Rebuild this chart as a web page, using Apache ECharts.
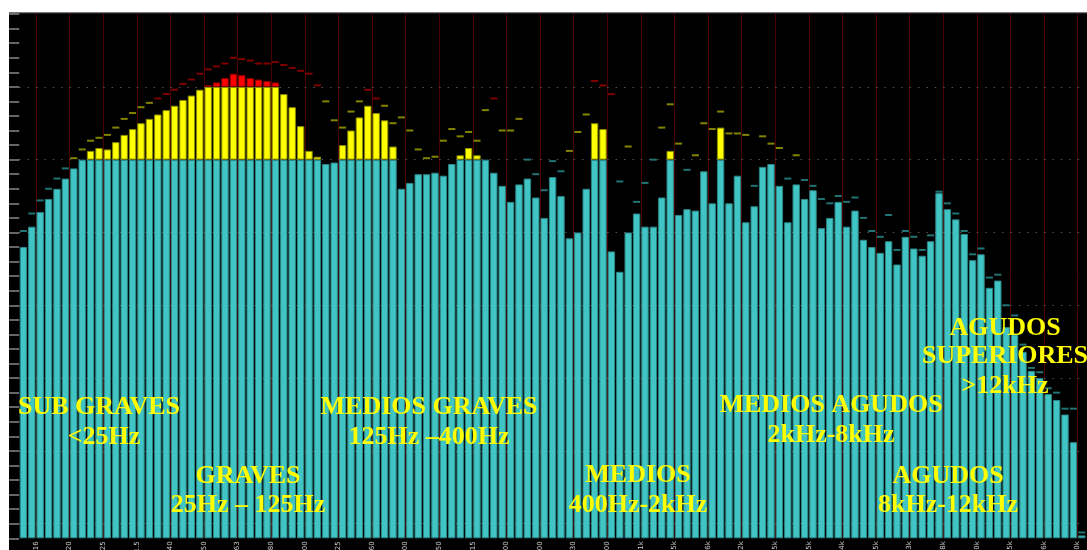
<!DOCTYPE html>
<html>
<head>
<meta charset="utf-8">
<script src="https://cdn.jsdelivr.net/npm/echarts@6/dist/echarts.min.js"></script>
<style>
  html, body { margin: 0; background: #fff; }
  #chart { position: absolute; left: 9px; top: 12px; width: 1078px; height: 538px; background: #000; }
</style>
</head>
<body>
<div id="chart"></div>
<script>
// 1/12 octave analyzer, level in display steps (0 = bottom, 36 = top)
var levels = [
  20.0, 21.4, 22.4, 23.3, 24.0, 24.7, 25.4, 26.0, 26.6, 26.8,
  26.7, 27.2, 27.7, 28.1, 28.5, 28.8, 29.1, 29.4, 29.7, 30.1,
  30.4, 30.8, 31.1, 31.3, 31.6, 31.9, 31.8, 31.6, 31.5, 31.4,
  31.3, 30.5, 29.6, 28.3, 26.6, 26.2, 25.7, 25.8, 27.0, 28.0,
  28.9, 29.7, 29.2, 28.7, 26.9, 24.0, 24.4, 25.0, 25.0, 25.1,
  24.9, 25.7, 26.3, 26.8, 26.3, 26.0, 25.1, 24.2, 23.1, 24.3,
  24.7, 23.4, 22.0, 24.8, 23.5, 20.6, 21.0, 24.0, 28.5, 28.1,
  19.7, 18.3, 21.0, 22.3, 21.4, 21.4, 23.4, 26.6, 22.2, 22.6,
  22.5, 25.2, 23.0, 28.2, 23.0, 24.9, 21.7, 22.8, 25.5, 25.7,
  24.2, 21.7, 24.3, 23.3, 23.9, 21.3, 22.0, 23.1, 21.4, 22.5,
  20.5, 20.0, 19.6, 20.4, 18.8, 20.7, 19.9, 19.4, 20.4, 23.7,
  22.6, 21.9, 20.9, 19.1, 19.5, 17.2, 17.7, 14.5, 14.0, 12.8,
  11.5, 11.0, 9.9, 9.5, 8.5, 6.6, 0.2
];
// peak hold marks
var peaks = [
  21.1, 22.3, 23.2, 24.0, 24.7, 25.4, 26.1, 26.7, 27.3, 27.5,
  27.7, 28.2, 28.8, 29.2, 29.6, 29.9, 30.2, 30.5, 30.8, 31.2,
  31.5, 31.9, 32.2, 32.4, 32.6, 33.0, 32.9, 32.8, 32.6, 32.6,
  32.7, 32.5, 32.3, 32.1, 31.9, 31.1, 30.0, 28.7, 28.2, 29.3,
  30.0, 30.8, 30.2, 29.7, 28.5, 28.9, 28.0, 26.7, 26.1, 26.2,
  27.3, 28.1, 27.6, 27.9, 27.3, 29.4, 30.2, 28.0, 28.0, 28.8,
  26.0, 25.0, 23.9, 25.9, 25.2, 26.6, 27.9, 29.1, 31.4, 31.1,
  30.5, 24.5, 26.9, 23.1, 24.4, 26.0, 28.2, 29.8, 27.1, 25.3,
  26.3, 28.5, 28.1, 29.3, 27.8, 27.8, 27.7, 24.2, 27.6, 27.1,
  26.8, 24.7, 26.3, 24.6, 24.2, 23.3, 23.0, 23.5, 23.1, 23.4,
  22.0, 21.1, 20.7, 22.2, 19.8, 21.1, 20.7, 19.8, 20.8, 23.8,
  23.0, 22.3, 21.1, 19.5, 19.9, 17.9, 18.1, 16.0, 15.3, 13.3,
  11.7, 11.4, 10.3, 10.0, 8.9, 8.9, 0.4
];
// third-octave tick labels, one every 4 bands (first one on band boundary 2)
var freqLabels = ['16', '20', '25', '31.5', '40', '50', '63', '80', '100', '125',
  '160', '200', '250', '315', '400', '500', '630', '800', '1k', '1.25k',
  '1.6k', '2k', '2.5k', '3.15k', '4k', '5k', '6.3k', '8k', '10k', '12.5k',
  '16k', '20k'];
var gridLevels = [1, 6, 11, 16, 21, 26, 31];
var yellowFrom = 26, redFrom = 31;

var bands = levels.map(function (v, i) { return i; });
var boundaries = [];
for (var b = 0; b <= levels.length; b++) {
  boundaries.push((b - 2) % 4 === 0 ? (freqLabels[(b - 2) / 4] || '') : '');
}

function part(v, lo, hi) {
  var p = Math.min(v, hi) - lo;
  return p > 0 ? p : null;
}
var tealPart = levels.map(function (v) { return part(v, 0, yellowFrom); });
var yellowPart = levels.map(function (v) { return part(v, yellowFrom, redFrom); });
var redPart = levels.map(function (v) { return part(v, redFrom, 99); });

var myChart = echarts.init(document.getElementById('chart'));

var txtFont = 'bold 26px "Liberation Serif", "DejaVu Serif", serif';
function zoneText(text, cx, cy) {
  return {
    type: 'text', z: 100, silent: true,
    x: cx - 9, y: cy - 12,
    style: { text: text, fill: '#ffff00', font: txtFont, textAlign: 'center', textVerticalAlign: 'middle' }
  };
}

var option = {
  animation: false,
  backgroundColor: '#000',
  grid: {
    left: 10.2, right: 1, top: 2, bottom: 11.7,
    outerBoundsMode: 'none'
  },
  xAxis: [
    {
      type: 'category',
      data: bands,
      show: false
    },
    {
      type: 'category',
      data: boundaries,
      boundaryGap: false,
      position: 'bottom',
      axisLine: { show: false },
      axisTick: { show: false },
      axisLabel: {
        rotate: 90,
        margin: 3,
        fontSize: 7,
        color: '#ccc',
        fontFamily: 'DejaVu Sans',
        interval: function (i) { return (i - 2) % 4 === 0; }
      },
      splitLine: {
        show: true,
        interval: function (i) { return (i - 2) % 4 === 0; },
        lineStyle: { color: '#4a0000', width: 1 }
      }
    }
  ],
  yAxis: {
    type: 'value',
    min: 0,
    max: 36,
    interval: 1,
    axisLine: { show: false },
    axisLabel: { show: false },
    axisTick: { show: true, length: 10, lineStyle: { color: '#666', width: 2 } },
    splitLine: { show: false }
  },
  series: [
    {
      name: 'low',
      type: 'bar',
      stack: 'lvl',
      xAxisIndex: 0,
      barCategoryGap: '12%',
      data: tealPart,
      itemStyle: { color: '#41c4c4', borderColor: '#2c8585', borderWidth: 1 }
    },
    {
      name: 'mid',
      type: 'bar',
      stack: 'lvl',
      xAxisIndex: 0,
      data: yellowPart,
      itemStyle: { color: '#ffff00', borderColor: '#8c8c00', borderWidth: 1 }
    },
    {
      name: 'high',
      type: 'bar',
      stack: 'lvl',
      xAxisIndex: 0,
      data: redPart,
      itemStyle: { color: '#ff0000', borderColor: '#8c0000', borderWidth: 1 }
    },
    {
      name: 'peak',
      type: 'scatter',
      xAxisIndex: 0,
      z: 5,
      symbol: 'rect',
      symbolSize: [7, 2],
      data: peaks,
      itemStyle: {
        color: function (p) {
          if (p.value > redFrom - 1) return '#a00000';
          if (p.value > yellowFrom) return '#a5a500';
          return '#2a9090';
        }
      },
      markLine: {
        silent: true,
        symbol: 'none',
        label: { show: false },
        lineStyle: { color: 'rgba(140,140,140,0.6)', type: [1.5, 6.9], width: 1 },
        data: gridLevels.map(function (v) { return { yAxis: v }; })
      }
    }
  ],
  graphic: [
    { type: 'line', z: 100, silent: true, shape: { x1: 0, y1: 0.5, x2: 1078, y2: 0.5 }, style: { stroke: '#777', lineWidth: 1.5 } },
    zoneText('SUB GRAVES', 99, 407),
    zoneText('<25Hz', 104, 437),
    zoneText('GRAVES', 248, 476),
    zoneText('25Hz \u2013 125Hz', 248, 505),
    zoneText('MEDIOS GRAVES', 429, 407),
    zoneText('125Hz \u2013400Hz', 429, 437),
    zoneText('MEDIOS', 638, 475),
    zoneText('400Hz-2kHz', 638, 505),
    zoneText('MEDIOS AGUDOS', 831, 405),
    zoneText('2kHz-8kHz', 831, 435),
    zoneText('AGUDOS', 948, 476),
    zoneText('8kHz-12kHz', 948, 505),
    zoneText('AGUDOS', 1005, 328),
    zoneText('SUPERIORES', 1005, 356),
    zoneText('>12kHz', 1005, 386)
  ]
};

myChart.setOption(option);
window.addEventListener('resize', function () {
  myChart.resize();
});
</script>
</body>
</html>
